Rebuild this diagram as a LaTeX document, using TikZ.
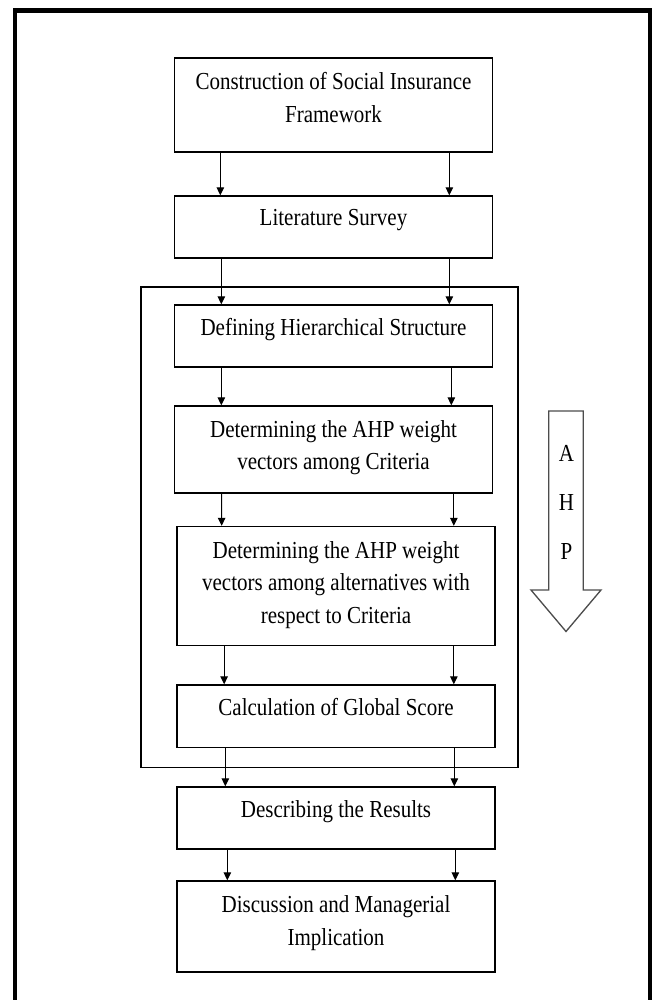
\documentclass[tikz,border=0pt]{standalone}
\usepackage{fontspec}
\setmainfont{Liberation Serif}[FakeStretch=0.86]
\usepackage{tikz}
\usetikzlibrary{arrows.meta,positioning}
\tikzset{
  stg/.style={rectangle,draw=black,fill=white,line width=.75pt,inner sep=0pt,minimum width=6.36cm},
  stt/.style={align=center,inner sep=0pt,font=\fontsize{13.9}{18.7}\selectfont},
  flow/.style={-{Triangle[length=1.6mm,width=1.5mm]},line width=.6pt,draw=black},
  grp/.style={draw=black,line width=.75pt},
  hull/.style={draw=black!70,line width=.75pt,fill=white},
  lttr/.style={align=center,inner sep=0pt,font=\fontsize{13.9}{27.8}\selectfont},
}
\begin{document}
\begin{tikzpicture}
\useasboundingbox (0,0) rectangle (13.1,20);
\draw[line width=2.4pt] (0.294,19.79) rectangle (13.0,-0.12);
% the AHP steps sit inside one frame
\draw[grp] (2.82,14.26) rectangle (10.36,4.65);
\node[stg,minimum height=1.88cm] (b1) at (6.67,17.90) {};
\node[stg,minimum height=1.24cm] (b2) at (6.67,15.46) {};
\node[stg,minimum height=1.24cm] (b3) at (6.67,13.28) {};
\node[stg,minimum height=1.74cm] (b4) at (6.67,11.01) {};
\node[stg,minimum height=2.38cm] (b5) at (6.72,8.28) {};
\node[stg,minimum height=1.25cm] (b6) at (6.72,5.675) {};
\node[stg,minimum height=1.24cm] (b7) at (6.72,3.64) {};
\node[stg,minimum height=1.82cm] (b8) at (6.72,1.47) {};
\node[stt,below=0.29cm of b1.north] (t1) {Construction of Social Insurance\\Framework};
\node[stt,below=0.27cm of b2.north] (t2) {Literature Survey};
\node[stt,below=0.28cm of b3.north] (t3) {Defining Hierarchical Structure};
\node[stt,below=0.29cm of b4.north] (t4) {Determining the AHP weight\\vectors among Criteria};
\node[stt,below=0.30cm of b5.north] (t5) {Determining the AHP weight\\vectors among alternatives with\\respect to Criteria};
\node[stt,below=0.28cm of b6.north] (t6) {Calculation of Global Score};
\node[stt,below=0.28cm of b7.north] (t7) {Describing the Results};
\node[stt,below=0.29cm of b8.north] (t8) {Discussion and Managerial\\Implication};
\draw[flow] ([xshift=0.93cm]b1.south west) -- ([xshift=0.93cm]b2.north west);
\draw[flow] ([xshift=5.51cm]b1.south west) -- ([xshift=5.51cm]b2.north west);
\draw[flow] ([xshift=0.95cm]b2.south west) -- ([xshift=0.95cm]b3.north west);
\draw[flow] ([xshift=5.51cm]b2.south west) -- ([xshift=5.51cm]b3.north west);
\draw[flow] ([xshift=0.95cm]b3.south west) -- ([xshift=0.95cm]b4.north west);
\draw[flow] ([xshift=5.55cm]b3.south west) -- ([xshift=5.55cm]b4.north west);
\draw[flow] ([xshift=0.956cm]b4.south west) -- ([xshift=0.906cm]b5.north west);
\draw[flow] ([xshift=5.60cm]b4.south west) -- ([xshift=5.55cm]b5.north west);
\draw[flow] ([xshift=0.956cm]b5.south west) -- ([xshift=0.956cm]b6.north west);
\draw[flow] ([xshift=5.55cm]b5.south west) -- ([xshift=5.55cm]b6.north west);
\draw[flow] ([xshift=0.98cm]b6.south west) -- ([xshift=0.98cm]b7.north west);
\draw[flow] ([xshift=5.56cm]b6.south west) -- ([xshift=5.56cm]b7.north west);
\draw[flow] ([xshift=1.02cm]b7.south west) -- ([xshift=1.02cm]b8.north west);
\draw[flow] ([xshift=5.58cm]b7.south west) -- ([xshift=5.58cm]b8.north west);
% block arrow beside the frame
\draw[hull] (10.975,11.78) -- (11.665,11.78) -- (11.665,8.20) -- (12.02,8.20)
  -- (11.32,7.37) -- (10.62,8.20) -- (10.975,8.20) -- cycle;
\node[lttr] (ahp) at (11.33,9.95) {A\\H\\P};
\end{tikzpicture}
\end{document}
